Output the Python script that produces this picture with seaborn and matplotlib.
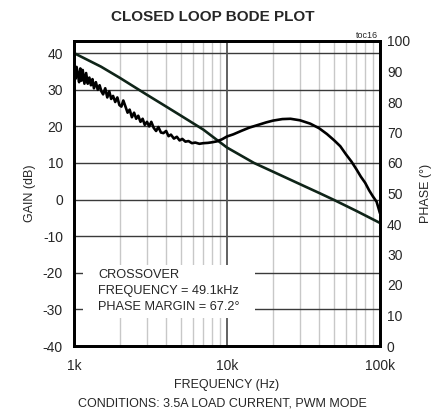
import numpy as np
import pandas as pd
import matplotlib
matplotlib.use("Agg")
import matplotlib.pyplot as plt
import seaborn as sns
from matplotlib.patches import Rectangle
from matplotlib.ticker import FixedLocator

# ---------------- data ----------------
gain_freq_hz = [1000, 1500, 2000, 3000, 4000, 5000, 7000, 10000, 15000, 20000,
                30000, 40000, 50000, 70000, 100000]
gain_db = [40.0, 36.3, 33.2, 28.6, 25.4, 22.9, 19.1, 14.2, 10.0, 7.6,
           4.2, 1.8, -0.1, -3.1, -6.4]

phase_freq_hz = [1000, 1020, 1040, 1060, 1080, 1100, 1120, 1140, 1170, 1200,
                 1230, 1260, 1290, 1320, 1350, 1390, 1430, 1470, 1510, 1550,
                 1600, 1650, 1700, 1750, 1800, 1860, 1920, 1980, 2040, 2100,
                 2170, 2240, 2310, 2390, 2470, 2550, 2630, 2720, 2810, 2900,
                 3000, 3100, 3200, 3320, 3440, 3560, 3700, 3840, 4000, 4150,
                 4300, 4500, 4700, 4900, 5100, 5350, 5600, 5900, 6200, 6600,
                 7000, 7500, 8000, 8600, 9300, 10000, 11000, 12500, 14000, 16000,
                 18000, 20000, 23000, 26000, 30000, 35000, 40000, 45000, 50000, 55000,
                 60000, 65000, 70000, 75000, 80000, 85000, 90000, 95000, 100000]
phase_deg = [92.0, 87.5, 91.5, 89.0, 86.5, 91.0, 87.0, 90.5, 86.0, 89.5,
             86.0, 88.0, 85.5, 87.5, 84.5, 86.5, 84.0, 85.5, 83.5, 82.5,
             84.5, 81.5, 83.5, 81.0, 82.0, 80.0, 81.5, 79.0, 78.5, 80.5,
             78.5, 76.5, 77.5, 75.0, 76.5, 74.5, 75.5, 73.5, 74.5, 72.5,
             73.5, 72.0, 73.5, 71.5, 70.5, 71.8, 70.0, 69.8, 70.5, 68.8,
             69.3, 68.0, 68.6, 67.4, 67.9, 67.0, 67.2, 66.5, 66.7, 66.3,
             66.5, 66.6, 66.8, 67.1, 67.8, 68.7, 69.4, 70.6, 71.6, 72.5,
             73.3, 73.9, 74.4, 74.5, 74.0, 72.9, 71.4, 69.5, 67.5, 65.5,
             62.8, 60.5, 58.0, 55.5, 53.5, 51.0, 49.0, 47.3, 43.5]

gain_ticks = [-40, -30, -20, -10, 0, 10, 20, 30, 40]
phase_ticks = [0, 10, 20, 30, 40, 50, 60, 70, 80, 90, 100]
freq_ticks = [1000, 10000, 100000]
freq_tick_labels = ["1k", "10k", "100k"]

title = "CLOSED LOOP BODE PLOT"
note_lines = ["CROSSOVER", "FREQUENCY = 49.1kHz", "PHASE MARGIN = 67.2°"]
conditions = "CONDITIONS: 3.5A LOAD CURRENT, PWM MODE"

gain_df = pd.DataFrame({"freq": gain_freq_hz, "gain": gain_db})
phase_df = pd.DataFrame({"freq": phase_freq_hz, "phase": phase_deg})

# ---------------- style ----------------
sns.set_style("white")
plt.rcParams["font.family"] = ["Liberation Sans", "DejaVu Sans"]
plt.rcParams["font.size"] = 10
plt.rcParams["axes.unicode_minus"] = False

fig = plt.figure(figsize=(4.34, 4.12), dpi=100)
W, H = 434, 412
L, R, T, B = 74, 380, 41, 346
ax = fig.add_axes([L / W, 1 - B / H, (R - L) / W, (B - T) / H])
ax2 = ax.twinx()

ax.set_xscale("log")
ax.set_xlim(1000, 100000)
ax.set_ylim(-40, 43.3)
ax2.set_ylim(0, 100)

# grid
for g in gain_ticks:
    ax.axhline(g, color="#3a3a3a", lw=1.0, zorder=0.5)
minor = [m * d for d in (1000, 10000) for m in range(2, 10)]
for f in minor:
    ax.axvline(f, color="#c8c8c8", lw=1.0, zorder=0.4)
ax.axvline(10000, color="#555555", lw=1.3, zorder=0.5)

# note box (white background covering grid)
bx0, bx1, by0, by1 = 83, 255, 265, 318
ax.add_patch(Rectangle((bx0 / W, 1 - by1 / H), (bx1 - bx0) / W, (by1 - by0) / H,
                       transform=fig.transFigure, facecolor="white",
                       edgecolor="none", zorder=1))
for i, line in enumerate(note_lines):
    fig.text(98 / W, 1 - (275 + 16 * i) / H, line, fontsize=9.2,
             ha="left", va="center", zorder=5)

# curves
sns.lineplot(data=gain_df, x="freq", y="gain", ax=ax, color="#0f2418",
             lw=1.9, zorder=3)
sns.lineplot(data=phase_df, x="freq", y="phase", ax=ax2, color="#000000",
             lw=1.9, zorder=3)

# ticks
ax.xaxis.set_major_locator(FixedLocator(freq_ticks))
ax.xaxis.set_minor_locator(FixedLocator([]))
ax.set_xticklabels(freq_tick_labels)
ax.set_yticks(gain_ticks)
ax2.set_yticks(phase_ticks)
ax.tick_params(axis="both", length=0, labelsize=10)
ax.tick_params(axis="y", pad=8)
ax.tick_params(axis="x", pad=9)
ax2.tick_params(axis="y", length=0, labelsize=10, pad=5)

ax.set_xlabel("FREQUENCY (Hz)", fontsize=9, labelpad=5)
ax.set_ylabel("GAIN (dB)", fontsize=9, labelpad=5)
ax2.set_ylabel("PHASE (°)", fontsize=9, labelpad=7)

for a in (ax, ax2):
    for s in a.spines.values():
        s.set_color("black")
        s.set_linewidth(2.0)

fig.text(213 / W, 1 - 17 / H, title, fontsize=11, fontweight="bold",
         ha="center", va="center")
fig.text(378 / W, 1 - 35 / H, "toc16", fontsize=6.5, ha="right", va="center")
fig.text(222 / W, 1 - 403 / H, conditions, fontsize=9, ha="center", va="center")

fig.savefig("out.png", dpi=100)
